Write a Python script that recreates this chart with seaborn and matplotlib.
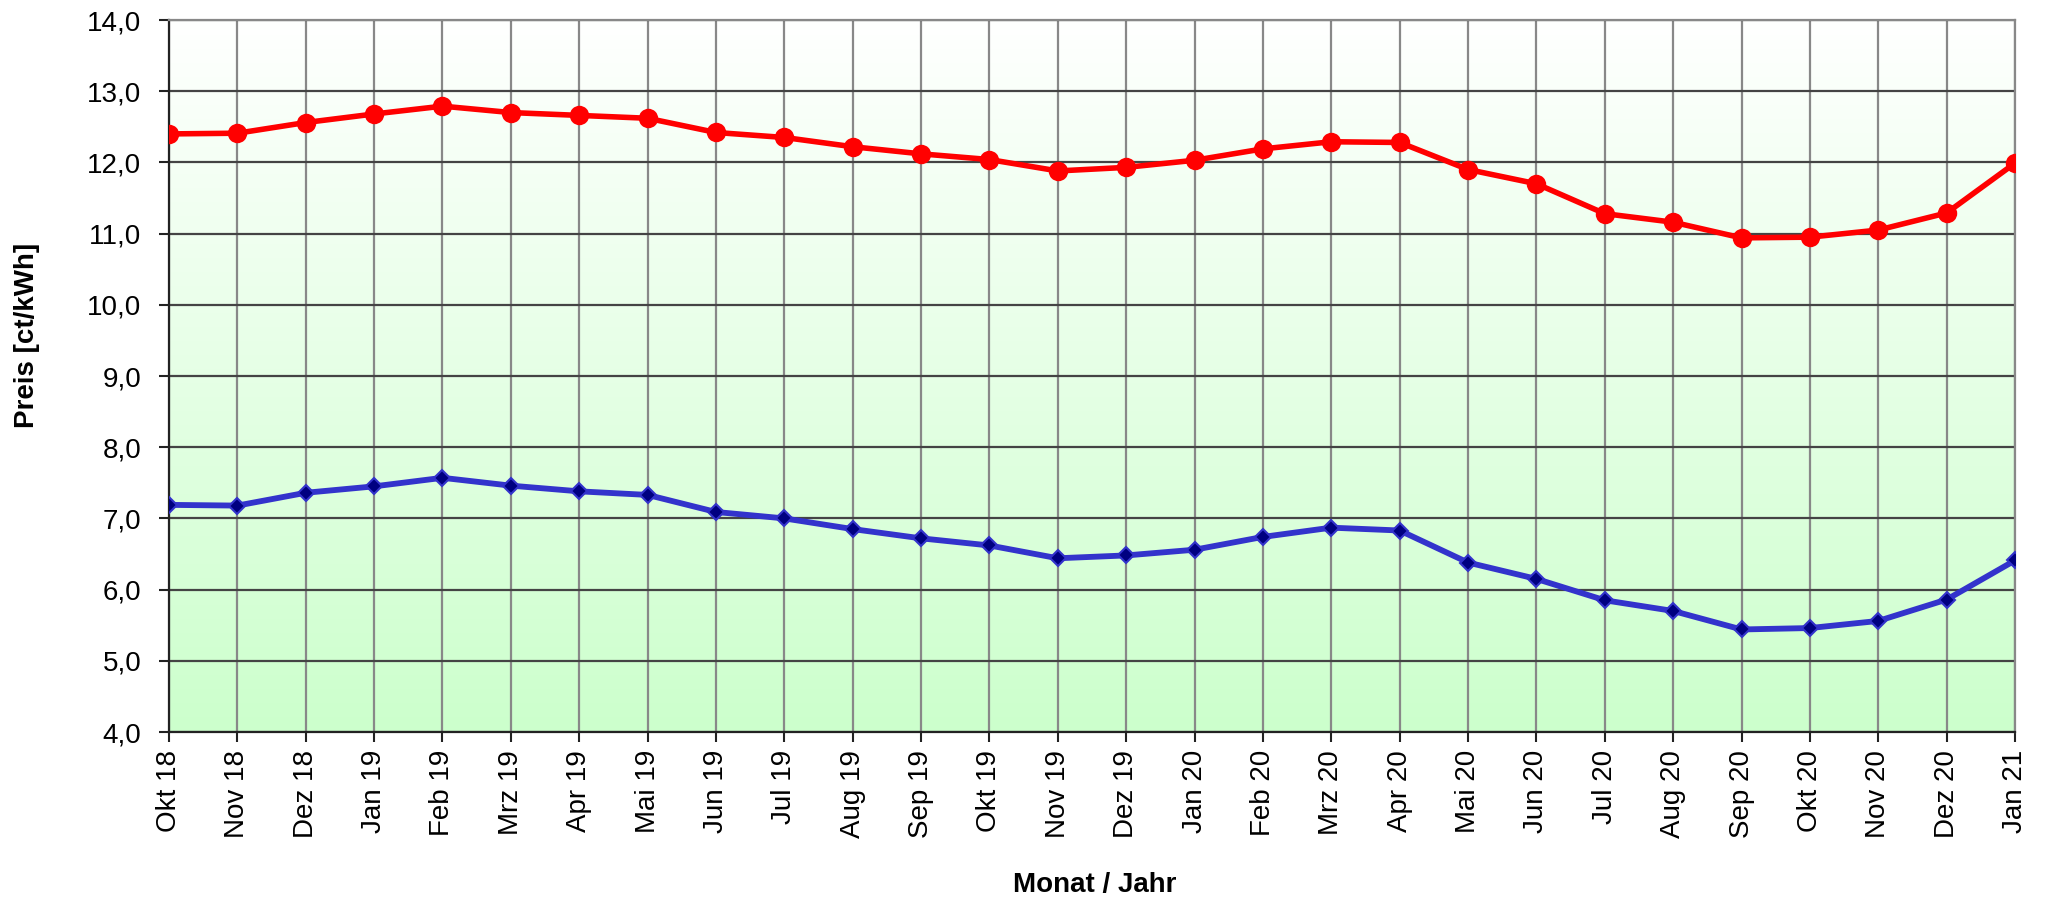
import numpy as np
import pandas as pd
import matplotlib
matplotlib.use("Agg")
import matplotlib.pyplot as plt
import seaborn as sns
from matplotlib.colors import LinearSegmentedColormap

# data
months = ["Okt 18", "Nov 18", "Dez 18", "Jan 19", "Feb 19", "Mrz 19", "Apr 19", "Mai 19",
          "Jun 19", "Jul 19", "Aug 19", "Sep 19", "Okt 19", "Nov 19", "Dez 19", "Jan 20",
          "Feb 20", "Mrz 20", "Apr 20", "Mai 20", "Jun 20", "Jul 20", "Aug 20", "Sep 20",
          "Okt 20", "Nov 20", "Dez 20", "Jan 21"]
red_prices = [12.40, 12.41, 12.56, 12.68, 12.79, 12.70, 12.66, 12.62, 12.42, 12.35,
              12.22, 12.12, 12.04, 11.88, 11.93, 12.03, 12.19, 12.29, 12.28, 11.90,
              11.70, 11.28, 11.16, 10.94, 10.95, 11.05, 11.29, 11.99]
blue_prices = [7.19, 7.18, 7.36, 7.45, 7.57, 7.46, 7.38, 7.33, 7.09, 7.00,
               6.85, 6.72, 6.62, 6.44, 6.48, 6.56, 6.74, 6.87, 6.83, 6.38,
               6.15, 5.85, 5.70, 5.44, 5.46, 5.56, 5.86, 6.41]
y_ticks = np.arange(4, 14.01, 1.0)

df = pd.DataFrame({"pos": np.arange(len(months)), "red": red_prices, "blue": blue_prices})

sns.set_style("white")
plt.rcParams["font.family"] = ["Liberation Sans", "DejaVu Sans"]
plt.rcParams["text.color"] = "black"

fig = plt.figure(figsize=(20.55, 9.02), dpi=100)
ax = fig.add_axes([169 / 2055, 1 - 732 / 902, (2015 - 169) / 2055, (732 - 20) / 902])

# gradient background: white at top, light green at bottom
grad = np.linspace(0, 1, 256).reshape(-1, 1)
cmap = LinearSegmentedColormap.from_list("bg", ["#ffffff", "#ccffcc"])
ax.imshow(grad, cmap=cmap, aspect="auto", extent=(0, len(months) - 1, 4, 14),
          origin="upper", zorder=0)

sns.lineplot(data=df, x="pos", y="red", ax=ax, color="#ff0000", linewidth=4,
             marker="o", markersize=14, markeredgewidth=0, zorder=5)
sns.lineplot(data=df, x="pos", y="blue", ax=ax, color="#3333cc", linewidth=4.2,
             marker="D", markersize=8.5, markerfacecolor="#000080",
             markeredgecolor="#3333cc", markeredgewidth=1.5, zorder=5)

ax.set_xlim(0, len(months) - 1)
ax.set_ylim(4, 14)
ax.set_xticks(df["pos"])
ax.set_xticklabels(months, rotation=90)
ax.set_yticks(y_ticks)
ax.set_yticklabels([f"{v:.1f}".replace(".", ",") for v in y_ticks])

ax.xaxis.grid(True, color="#888888", linewidth=1.6, zorder=1)
ax.yaxis.grid(True, color="#444444", linewidth=1.6, zorder=1)
ax.set_axisbelow(True)

for side in ["left", "bottom"]:
    ax.spines[side].set_color("#222222")
    ax.spines[side].set_linewidth(1.6)
for side in ["right", "top"]:
    ax.spines[side].set_color("#888888")
    ax.spines[side].set_linewidth(1.6)

ax.tick_params(axis="both", which="both", direction="out", length=7, width=1.5,
               color="#222222", labelsize=20, labelcolor="#000000", left=True, bottom=True)
ax.tick_params(axis="y", pad=13)
ax.tick_params(axis="x", pad=6)

ax.set_xlabel("")
ax.set_ylabel("")
fig.text(27 / 2055, 1 - 335 / 902, "Preis [ct/kWh]", rotation=90, fontsize=20,
         fontweight="bold", ha="center", va="center", color="black")
fig.text(1095 / 2055, 1 - 885 / 902, "Monat / Jahr", fontsize=20,
         fontweight="bold", ha="center", va="center", color="black")

fig.savefig("out.png", dpi=100)
